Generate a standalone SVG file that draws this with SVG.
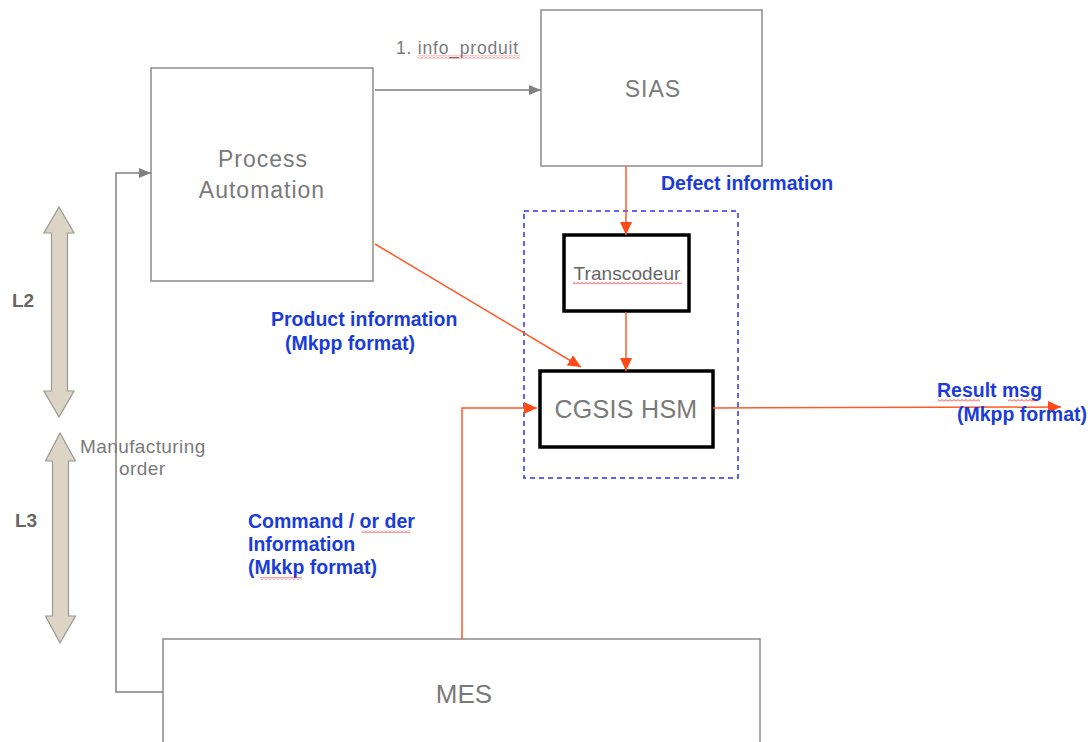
<svg xmlns="http://www.w3.org/2000/svg" width="1092" height="742" viewBox="0 0 1092 742">
<style>
.box{fill:#fff;stroke:#8c8c8c;stroke-width:1.5}
.tbox{fill:#fff;stroke:#000;stroke-width:3.5}
.gl{font-family:"Liberation Sans",Arial,sans-serif;fill:#7a7a7a;text-anchor:middle}
.bl{font-family:"Liberation Sans",Arial,sans-serif;font-weight:bold;fill:#1a3cd8;font-size:19.5px}
.gc{fill:none;stroke:#808080;stroke-width:1.5}
.rc{fill:none;stroke:#ff5a28;stroke-width:1.5}
.lvl{fill:#dcd5c6;stroke:#9a9890;stroke-width:1.2}
.lt{font-family:"Liberation Sans",Arial,sans-serif;font-weight:bold;fill:#666;font-size:19px}
.sq{fill:url(#wave)}
</style>
<defs>
<marker id="ag" markerUnits="userSpaceOnUse" markerWidth="13" markerHeight="11" refX="12" refY="5" orient="auto">
<path d="M0,0 L12,5 L0,10 z" fill="#808080"/>
</marker>
<marker id="ar" markerUnits="userSpaceOnUse" markerWidth="14" markerHeight="13" refX="13" refY="6" orient="auto">
<path d="M0,0 L13,6 L0,12 z" fill="#ff4a18"/>
</marker>
<pattern id="wave" patternUnits="userSpaceOnUse" width="4" height="3">
<path d="M0,2.5 L2,0.5 L4,2.5" fill="none" stroke="#ff1a1a" stroke-width="0.9"/>
</pattern>
</defs>
<rect width="1092" height="742" fill="#fff"/>

<g id="levels">
<polygon class="lvl" points="59,207 74,233 67.5,233 67.5,391 74,391 59,417 44,391 51.5,391 51.5,233 44,233"/>
<polygon class="lvl" points="60,433 75.5,461 68.5,461 68.5,616 75.5,616 60,643 45.5,616 52.5,616 52.5,461 45.5,461"/>
<text class="lt" x="12" y="307">L2</text>
<text class="lt" x="15" y="527">L3</text>
</g>

<g id="node-pa">
<rect class="box" x="151" y="68" width="222" height="213"/>
<text class="gl" font-size="23" letter-spacing="1" x="263" y="167">Process</text>
<text class="gl" font-size="23" letter-spacing="1" x="262" y="198">Automation</text>
</g>

<g id="node-sias">
<rect class="box" x="541" y="10" width="221" height="156"/>
<text class="gl" font-size="23" letter-spacing="1" x="653" y="97">SIAS</text>
</g>

<g id="node-mes">
<rect class="box" x="163" y="639" width="597" height="110"/>
<text class="gl" font-size="26" x="464" y="703">MES</text>
</g>

<g id="group-box">
<rect x="524" y="211" width="214" height="267" fill="none" stroke="#3030ee" stroke-width="1.5" stroke-dasharray="5,4"/>
</g>

<g id="node-transcodeur">
<rect class="tbox" x="564" y="235" width="125" height="76"/>
<text class="gl" font-size="19" letter-spacing="0.1" fill="#6a6a6a" x="627" y="280" style="fill:#666">Transcodeur</text>
<rect class="sq" x="573" y="281.5" width="109" height="3"/>
</g>

<g id="node-cgsis">
<rect class="tbox" x="540" y="371" width="173" height="76"/>
<text class="gl" font-size="25" letter-spacing="0.3" x="626" y="418">CGSIS HSM</text>
</g>

<g id="connectors">
<line class="gc" x1="375" y1="90" x2="541" y2="90" marker-end="url(#ag)"/>
<polyline class="gc" points="163,692 116,692 116,173 151,173" marker-end="url(#ag)"/>
<line class="rc" x1="626" y1="166" x2="626" y2="235" marker-end="url(#ar)"/>
<line class="rc" x1="626" y1="312" x2="626" y2="371" marker-end="url(#ar)"/>
<line class="rc" x1="375" y1="244" x2="581" y2="367" marker-end="url(#ar)"/>
<polyline class="rc" points="462,639 462,408 537,408" marker-end="url(#ar)"/>
<line class="rc" x1="713" y1="408" x2="1061" y2="407" marker-end="url(#ar)"/>
</g>

<g id="labels">
<text font-family="Liberation Sans, Arial, sans-serif" font-size="17.5" letter-spacing="0.8" fill="#7a7a7a" x="396" y="54">1. info_produit</text>
<rect class="sq" x="418" y="55.5" width="102" height="3"/>
<text class="bl" x="661" y="190">Defect information</text>
<text class="bl" x="271" y="326">Product information</text>
<text class="bl" x="285" y="350">(Mkpp format)</text>
<text class="bl" x="248" y="528">Command / or der</text>
<rect class="sq" x="362" y="530" width="48" height="3"/>
<text class="bl" x="248" y="551">Information</text>
<text class="bl" x="248" y="574">(Mkkp format)</text>
<rect class="sq" x="260" y="577" width="42" height="3"/>
<text class="bl" x="937" y="397">Result msg</text>
<rect class="sq" x="938" y="399" width="42" height="3"/>
<rect class="sq" x="1008" y="399" width="29" height="3"/>
<text class="bl" x="957" y="421">(Mkpp format)</text>
<text font-family="Liberation Sans, Arial, sans-serif" font-size="19" letter-spacing="0.4" fill="#7a7a7a" x="80" y="453">Manufacturing</text>
<text font-family="Liberation Sans, Arial, sans-serif" font-size="19" letter-spacing="0.4" fill="#7a7a7a" x="119" y="475">order</text>
</g>
</svg>
